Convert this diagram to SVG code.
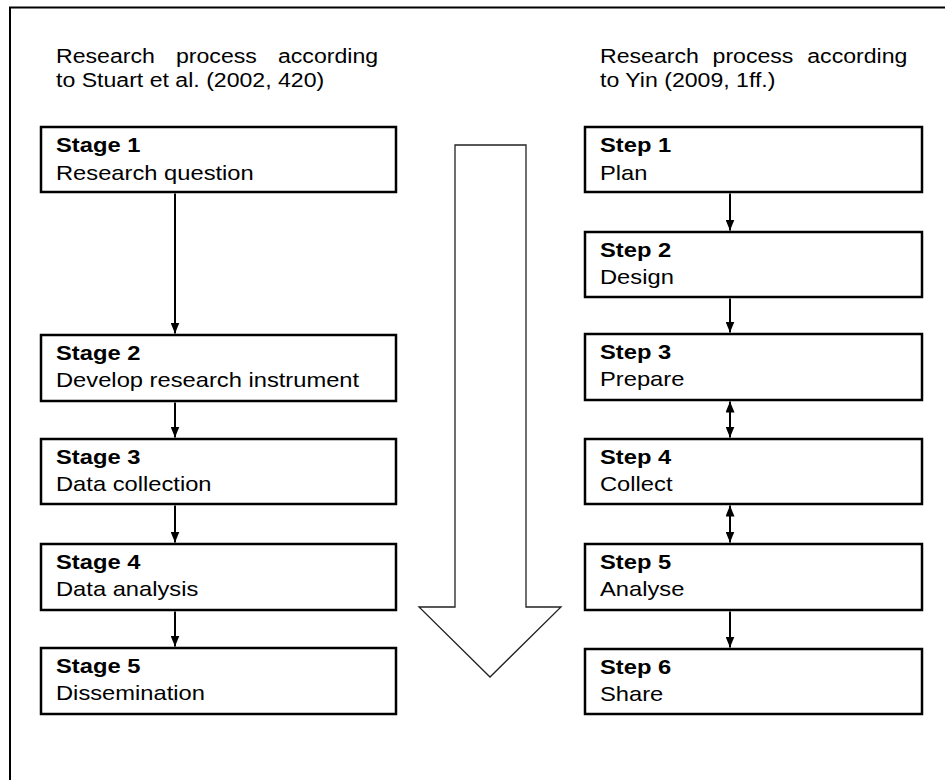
<svg xmlns="http://www.w3.org/2000/svg" width="945" height="780" viewBox="0 0 945 780">
  <style>
    .frame { fill: none; stroke: #000; stroke-width: 2; }
    .box { fill: #fff; stroke: #000; stroke-width: 2.5; }
    .conn { fill: none; stroke: #000; stroke-width: 2; }
    .big { fill: #fff; stroke: #222; stroke-width: 1.3; stroke-linejoin: miter; }
    text { font-family: "Liberation Sans", Arial, sans-serif; font-size: 21px; fill: #000; }
    .b { font-weight: bold; }
  </style>
  <defs>
    <marker id="head" viewBox="0 0 11 9" refX="11" refY="4.5" markerWidth="11" markerHeight="9" markerUnits="userSpaceOnUse" orient="auto-start-reverse">
      <path d="M0,0 L11,4.5 L0,9 z" fill="#000"/>
    </marker>
  </defs>
  <rect width="945" height="780" fill="#fff"/>

  <!-- outer frame, open to the right and bottom -->
  <path class="frame" d="M10,781 V7.5 H946"/>

  <!-- column headings -->
  <g id="heading-left">
    <text transform="scale(1.1 1)">
      <tspan x="50.9" y="63">Research</tspan><tspan x="160" y="63">process</tspan><tspan x="252.7" y="63">according</tspan>
      <tspan x="50.9" y="87">to Stuart et al. (2002, 420)</tspan>
    </text>
  </g>
  <g id="heading-right">
    <text transform="scale(1.1 1)">
      <tspan x="545.5" y="63">Research</tspan><tspan x="647.8" y="63">process</tspan><tspan x="733.9" y="63">according</tspan>
      <tspan x="545.5" y="87">to Yin (2009, 1ff.)</tspan>
    </text>
  </g>

  <!-- overall direction arrow -->
  <g id="direction-arrow">
    <polygon class="big" points="455,145 526,145 526,607 561,607 490,677 419,607 455,607"/>
  </g>

  <!-- Stuart et al. stages -->
  <g id="stage1">
    <rect class="box" x="41" y="127" width="355" height="65"/>
    <text transform="translate(56 0) scale(1.13 1)"><tspan class="b" x="0" y="152">Stage 1</tspan><tspan x="0" y="180">Research question</tspan></text>
  </g>
  <g id="stage2">
    <rect class="box" x="41" y="335" width="355" height="66"/>
    <text transform="translate(56 0) scale(1.13 1)"><tspan class="b" x="0" y="360">Stage 2</tspan><tspan x="0" y="387">Develop research instrument</tspan></text>
  </g>
  <g id="stage3">
    <rect class="box" x="41" y="439" width="355" height="65"/>
    <text transform="translate(56 0) scale(1.13 1)"><tspan class="b" x="0" y="464">Stage 3</tspan><tspan x="0" y="491">Data collection</tspan></text>
  </g>
  <g id="stage4">
    <rect class="box" x="41" y="544" width="355" height="66"/>
    <text transform="translate(56 0) scale(1.13 1)"><tspan class="b" x="0" y="569">Stage 4</tspan><tspan x="0" y="596">Data analysis</tspan></text>
  </g>
  <g id="stage5">
    <rect class="box" x="41" y="648" width="355" height="66"/>
    <text transform="translate(56 0) scale(1.13 1)"><tspan class="b" x="0" y="673">Stage 5</tspan><tspan x="0" y="700">Dissemination</tspan></text>
  </g>

  <!-- Yin steps -->
  <g id="step1">
    <rect class="box" x="585" y="127" width="337" height="65"/>
    <text transform="translate(600 0) scale(1.13 1)"><tspan class="b" x="0" y="152">Step 1</tspan><tspan x="0" y="180">Plan</tspan></text>
  </g>
  <g id="step2">
    <rect class="box" x="585" y="232" width="337" height="65"/>
    <text transform="translate(600 0) scale(1.13 1)"><tspan class="b" x="0" y="257">Step 2</tspan><tspan x="0" y="284">Design</tspan></text>
  </g>
  <g id="step3">
    <rect class="box" x="585" y="334" width="337" height="66"/>
    <text transform="translate(600 0) scale(1.13 1)"><tspan class="b" x="0" y="359">Step 3</tspan><tspan x="0" y="386">Prepare</tspan></text>
  </g>
  <g id="step4">
    <rect class="box" x="585" y="439" width="337" height="65"/>
    <text transform="translate(600 0) scale(1.13 1)"><tspan class="b" x="0" y="464">Step 4</tspan><tspan x="0" y="491">Collect</tspan></text>
  </g>
  <g id="step5">
    <rect class="box" x="585" y="544" width="337" height="66"/>
    <text transform="translate(600 0) scale(1.13 1)"><tspan class="b" x="0" y="569">Step 5</tspan><tspan x="0" y="596">Analyse</tspan></text>
  </g>
  <g id="step6">
    <rect class="box" x="585" y="649" width="337" height="65"/>
    <text transform="translate(600 0) scale(1.13 1)"><tspan class="b" x="0" y="674">Step 6</tspan><tspan x="0" y="701">Share</tspan></text>
  </g>

  <!-- connectors -->
  <g id="connectors">
    <line class="conn" x1="175" y1="193.5" x2="175" y2="333.5" marker-end="url(#head)"/>
    <line class="conn" x1="175" y1="402.5" x2="175" y2="437.5" marker-end="url(#head)"/>
    <line class="conn" x1="175" y1="505.5" x2="175" y2="542.5" marker-end="url(#head)"/>
    <line class="conn" x1="175" y1="611.5" x2="175" y2="646.5" marker-end="url(#head)"/>

    <line class="conn" x1="730" y1="193.5" x2="730" y2="230.5" marker-end="url(#head)"/>
    <line class="conn" x1="730" y1="298.5" x2="730" y2="332.5" marker-end="url(#head)"/>
    <line class="conn" x1="730" y1="401.5" x2="730" y2="437.5" marker-start="url(#head)" marker-end="url(#head)"/>
    <line class="conn" x1="730" y1="505.5" x2="730" y2="542.5" marker-start="url(#head)" marker-end="url(#head)"/>
    <line class="conn" x1="730" y1="611.5" x2="730" y2="647.5" marker-end="url(#head)"/>
  </g>
</svg>
